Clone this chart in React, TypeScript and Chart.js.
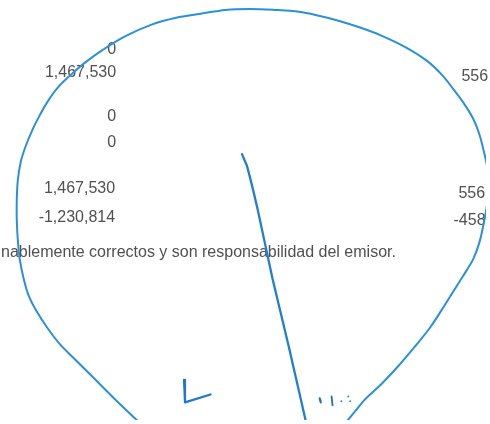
import React, { useEffect, useRef } from "react";
import { Chart, registerables } from "chart.js";

Chart.register(...registerables);

// Hand-drawn loop (pen stroke), sampled along its path
const loopX = [137, 112, 90, 72, 57, 44, 33, 25, 20, 16, 14, 13, 13, 14, 17, 22, 29, 36, 44, 54, 67, 82, 100, 123, 150, 175, 200, 225, 250, 275, 300, 320, 340, 362, 383, 408, 430, 445, 457, 468, 477, 483, 487, 491, 493, 491, 487, 483, 477, 470, 463, 448, 433, 417, 400, 384, 367, 357, 348];
const loopY = [426, 402, 380, 362, 347, 330, 313, 297, 280, 260, 240, 220, 200, 180, 161, 145, 128, 114, 100, 86, 73, 60, 47, 33, 21, 14, 10, 6, 5, 6, 8, 12, 17, 24, 32, 44, 58, 72, 87, 102, 117, 132, 147, 165, 185, 205, 227, 244, 260, 272, 283, 307, 330, 350, 370, 387, 403, 415, 426];

// Long diagonal stroke
const strokeX = [242, 244, 247, 258, 273, 289, 307];
const strokeY = [153, 158, 165, 210, 280, 347, 426];

// "L" mark
const markX = [183, 184, 210];
const markY = [383, 406, 398];

// Small specks (two short dashes and three dots)
const dash1X = [321, 322];
const dash1Y = [402, 406];
const dash2X = [333, 334];
const dash2Y = [400, 409];
const dotX = [343, 350, 352];
const dotY = [405, 400, 405];

// Document text fragments
const textItems = [
  { text: "0", x: 114, y: 46, align: "right" },
  { text: "1,467,530", x: 114, y: 70, align: "right" },
  { text: "0", x: 114, y: 115, align: "right" },
  { text: "0", x: 114, y: 141, align: "right" },
  { text: "1,467,530", x: 113, y: 188, align: "right" },
  { text: "-1,230,814", x: 113, y: 218, align: "right" },
  { text: "nablemente correctos y son responsabilidad del emisor.", x: -3, y: 253, align: "left" },
  { text: "556", x: 465, y: 74, align: "left" },
  { text: "556", x: 462, y: 193, align: "left" },
  { text: "-458", x: 457, y: 221, align: "left" },
];

const toPts = (xs: number[], ys: number[]) => xs.map((x, i) => ({ x, y: ys[i] }));

const textPlugin = {
  id: "docText",
  beforeDatasetsDraw(chart: any) {
    const { ctx, scales } = chart;
    ctx.save();
    ctx.fillStyle = "#505050";
    ctx.font = '16px "Liberation Sans", Arial, sans-serif';
    ctx.textBaseline = "middle";
    for (const t of textItems) {
      ctx.textAlign = t.align;
      ctx.fillText(t.text, scales.x.getPixelForValue(t.x), scales.y.getPixelForValue(t.y));
    }
    ctx.restore();
  },
};

const stroke = (xs: number[], ys: number[], color: string, width: number, tension: number) => ({
  data: toPts(xs, ys),
  showLine: true,
  borderColor: color,
  borderWidth: width,
  tension,
  pointRadius: 0,
  borderCapStyle: "round" as const,
  borderJoinStyle: "round" as const,
});

export default function App() {
  const ref = useRef<HTMLCanvasElement>(null);
  useEffect(() => {
    if (!ref.current) return;
    const chart = new Chart(ref.current, {
      type: "scatter",
      data: {
        datasets: [
          stroke(loopX, loopY, "#2a90dc", 2, 0.35),
          stroke(strokeX, strokeY, "#1f7fd0", 2.3, 0.2),
          stroke(markX, markY, "#1f78c8", 2.2, 0),
          stroke(dash1X, dash1Y, "#1f6fb8", 2.2, 0),
          stroke(dash2X, dash2Y, "#1f6fb8", 1.8, 0),
          {
            data: toPts(dotX, dotY),
            showLine: false,
            backgroundColor: "#3a88cc",
            borderWidth: 0,
            pointRadius: 1,
          },
        ],
      },
      options: {
        responsive: false,
        animation: false,
        layout: { padding: 0 },
        plugins: { legend: { display: false }, tooltip: { enabled: false } },
        scales: {
          x: { type: "linear", min: 0, max: 490, display: false },
          y: { type: "linear", min: 0, max: 424, reverse: true, display: false },
        },
      },
      plugins: [textPlugin],
    });
    return () => chart.destroy();
  }, []);
  return (
    <canvas
      ref={ref}
      width={490}
      height={424}
      style={{ position: "absolute", left: 0, top: 0, width: 490, height: 424, background: "#fff" }}
    />
  );
}
